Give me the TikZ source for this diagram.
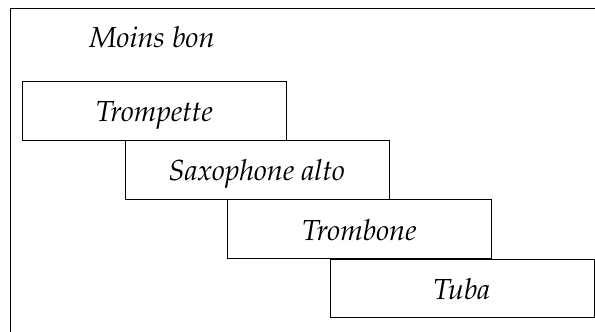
\documentclass[tikz,border=0pt]{standalone}
\usepackage[T1]{fontenc}
\usepackage{mathpazo}
\usetikzlibrary{positioning}
\tikzstyle{bx}=[draw, line width=0.7pt, minimum width=264pt, minimum height=58.5pt,
		inner sep=0pt, text height=22pt, text depth=0pt, font=\fontsize{29}{35}\selectfont\itshape]
\tikzstyle{lbl}=[inner sep=0pt, font=\fontsize{29}{35}\selectfont\itshape]
\begin{document}
\begin{tikzpicture}
                \useasboundingbox (0pt,0pt) rectangle (595pt,-332pt);
                \draw[line width=0.7pt] (10.7pt,-340pt) -- (10.7pt,-8pt) -- (600pt,-8pt);
                \node[lbl, anchor=base] (titre) at (152pt,-47pt) {Moins bon};
                \node[bx, anchor=north west] (trp) at (22pt,-81pt) {Trompette};
                \node[bx, right=102.5pt of trp.south west, anchor=north west] (sax) {Saxophone alto};
                \node[bx, right=102.5pt of sax.south west, anchor=north west] (trb) {Trombone};
                \node[bx, right=102.5pt of trb.south west, anchor=north west] (tub) {Tuba};
\end{tikzpicture}
\end{document}
